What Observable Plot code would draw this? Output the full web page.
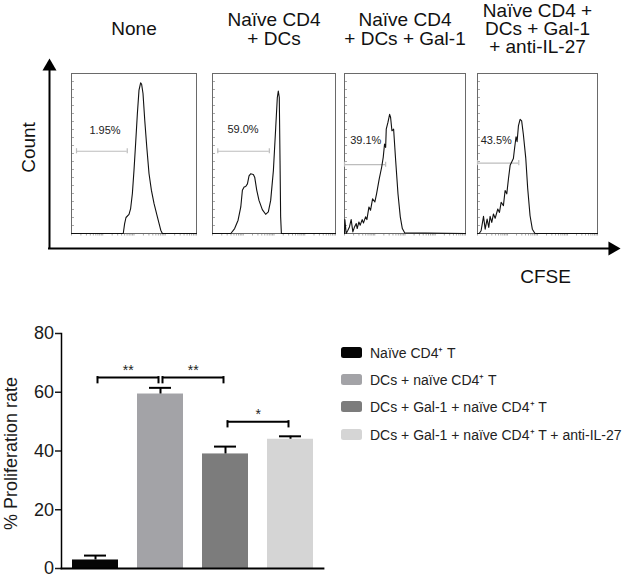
<!DOCTYPE html>
<html><head><meta charset="utf-8">
<script src="https://cdn.jsdelivr.net/npm/d3@7"></script>
<script src="https://cdn.jsdelivr.net/npm/@observablehq/plot@0.6"></script>
<style>
html,body{margin:0;padding:0;background:#fff;}
#fig{position:relative;width:624px;height:576px;overflow:hidden;font-family:"Liberation Sans",Arial,Helvetica,sans-serif;background:#fff;}
#fig > *{position:absolute;}
#legend{left:341px;top:339px;width:283px;}
#legend > div{margin:0 !important;font-family:"Liberation Sans",Arial,sans-serif !important;font-size:14px !important;color:#222 !important;}
#legend > div > div{height:27.2px !important;padding:0 !important;display:flex !important;align-items:center !important;}
#legend svg{margin-right:8px !important;}
#legend rect{rx:2.5px;ry:2.5px;}
</style></head>
<body><div id="fig"></div>
<script>
// ---------- DATA ----------
const panelTitles = ["None", "Naïve CD4\n+ DCs", "Naïve CD4\n+ DCs + Gal-1", "Naïve CD4 +\nDCs + Gal-1\n+ anti-IL-27"];
const gateLabels = ["1.95%", "59.0%", "39.1%", "43.5%"];
// CFSE histograms: [CFSE position (% of panel width), count (% of panel height)]
const histNone = [[0,0],[41.4,0],[42.5,6.2],[43.6,10],[46,11.9],[47.3,15.6],[48.7,25],[50,39.6],[51.3,56.3],[52.7,75],[54,89.6],[55.3,94.2],[56.1,93.3],[57.2,87.5],[58.6,70.8],[60.2,54.2],[62,37.5],[63.9,27.1],[66,18.8],[68.7,10.4],[71.4,2.1],[72.7,0],[100,0]];
const histDCs = [[0,0],[14.9,0],[18,3.1],[20.8,8.3],[23,16.6],[24.3,27],[25.7,29],[27,29.4],[28.4,31],[29.7,36],[31,37.3],[33.2,36.9],[34.3,35.2],[36,27],[37.8,20.7],[40.5,14.9],[43.2,12],[45.4,13.5],[47.3,20.7],[49.5,39.3],[51.4,66.3],[52.7,85],[53.5,89],[54.3,85],[54.9,45.5],[55.4,10.4],[56,0],[100,0]];
const histGal1 = [[0,0],[0.3,8.7],[1.4,0],[2.8,2],[4.1,4.1],[5.5,8.7],[6.9,1],[8.3,4.1],[9.7,6.2],[10.5,3.1],[11.9,7.2],[13,5.2],[14.6,8.7],[15.7,6.6],[17.4,10.4],[18.5,8.7],[20.2,16.6],[21.5,14.5],[23.2,21.7],[25.1,19.7],[26.5,24.8],[28.7,34.2],[30.7,41.4],[32,47.6],[33.1,55.9],[34,53.8],[34.5,65.2],[35.9,69.4],[37.3,74.5],[38.1,72.5],[39.2,64.2],[40.6,65.2],[42.3,45.5],[44.2,24.8],[46.1,10.4],[47.8,3.1],[49.7,0.4],[100,0]];
const histAntiIL27 = [[0,0],[1.4,0],[3,1.7],[5,10.7],[6.4,2.7],[8,9],[9.4,3.8],[10.5,10.7],[11.9,6.9],[13.3,12.2],[14.7,9.5],[16.9,15.3],[18.3,13.2],[19.7,19.5],[21.6,17.4],[23,26.9],[24.4,24.8],[25.8,34.2],[27.2,42.6],[28.5,44.7],[29.9,46.8],[30.7,52],[32.1,60.5],[33,57.4],[34.1,67.2],[35.5,71.4],[36.8,70.4],[38.2,62],[40.2,47.3],[41.8,28.4],[43.8,11.1],[45.7,2.7],[47.9,0],[100,0]];
// gates: start, end, height
const gateX1 = [4, 4.3, 0, 0];
const gateX2 = [44.6, 46.2, 34, 34.4];
const gateY = [51.4, 51.4, 43, 44];

// bar chart
const groups = ["Naïve CD4⁺ T", "DCs + naïve CD4⁺ T", "DCs + Gal-1 + naïve CD4⁺ T", "DCs + Gal-1 + naïve CD4⁺ T + anti-IL-27"];
const rates = [2.9, 59.4, 39.0, 44.0];
const rateErrTop = [4.4, 61.5, 41.5, 45.0];
const barColors = ["#050505", "#a3a3a7", "#7c7c7c", "#d5d5d5"];
const yTickValues = [0, 20, 40, 60, 80];
const sigFrom = [groups[0], groups[1], groups[2]];
const sigTo = [groups[1], groups[2], groups[3]];
const sigY = [65, 65, 50];
const sigLabels = ["**", "**", "*"];

// ---------- LAYOUT ----------
const font = '"Liberation Sans", Arial, Helvetica, sans-serif';
const fig = document.getElementById("fig");
function place(el, left, top) { el.style.position = "absolute"; el.style.left = left + "px"; el.style.top = top + "px"; el.style.maxWidth = "none"; fig.appendChild(el); }

const panelFrames = [[71,196],[212,335],[344,465],[477,597]];
const labelPos = [[26.8,61.9],[24.8,62.7],[17.6,56],[15.6,56]];
const curves = [histNone, histDCs, histGal1, histAntiIL27];
const logTicks = d3.range(4).flatMap(d => d3.range(1,10).map(k => 25*d + 25*Math.log10(k))).concat([100]);
const yMinor = d3.range(0, 101, 5);

curves.forEach((curve, i) => {
  const [L, R] = panelFrames[i];
  const ml = 8, mr = 8;
  const nLines = panelTitles[i].split("\n").length;
  const gate = {x1: gateX1[i], x2: gateX2[i], y: gateY[i]};
  const svg = Plot.plot({
    width: R - L + ml + mr, height: 240,
    marginTop: 73, marginBottom: 7, marginLeft: ml, marginRight: mr,
    x: {domain: [0, 100]}, y: {domain: [0, 100]},
    style: {background: "transparent", overflow: "visible", fontFamily: font},
    marks: [
      Plot.axisX({ticks: logTicks, tickSize: 2.5, tickFormat: () => "", label: null, stroke: "#aaa"}),
      Plot.axisY({ticks: yMinor, tickSize: -3, tickFormat: () => "", label: null, stroke: "#aaa"}),
      Plot.frame({stroke: "#6a6a6a"}),
      Plot.ruleY([gate], {x1: "x1", x2: "x2", y: "y", stroke: "#bdbdbd", strokeWidth: 1.2}),
      Plot.ruleX([gate.x1, gate.x2], {y1: gate.y - 1.6, y2: gate.y + 1.6, stroke: "#bdbdbd", strokeWidth: 1.2}),
      Plot.line(curve, {stroke: "#111", strokeWidth: 1.1}),
      Plot.text([gateLabels[i]], {x: labelPos[i][0], y: labelPos[i][1], text: d => d, fontSize: 11, lineAnchor: "bottom", fill: "#222"}),
      Plot.text([panelTitles[i]], {frameAnchor: "top", dy: -44.5, text: d => d, textAnchor: "middle", lineAnchor: "middle", fontSize: 19, lineHeight: nLines > 2 ? 0.95 : 1.02, fill: "#111"})
    ]
  });
  place(svg, L - ml, 0);
});

// axis arrows, Count / CFSE
const axisEnds = [0, 1];
const arrows = Plot.plot({
  width: 624, height: 290, marginLeft: 49, marginRight: 12, marginTop: 66, marginBottom: 42,
  x: {domain: axisEnds, axis: null}, y: {domain: axisEnds, axis: null},
  style: {background: "transparent", overflow: "visible", fontFamily: font},
  marks: [
    Plot.ruleX([axisEnds[0]], {y1: axisEnds[0], y2: axisEnds[1], strokeWidth: 2, strokeLinecap: "square"}),
    Plot.ruleY([axisEnds[0]], {x1: axisEnds[0], x2: axisEnds[1], strokeWidth: 2, strokeLinecap: "square"}),
    Plot.dot([[axisEnds[0], axisEnds[1]]], {symbol: "triangle", r: 5.2, fill: "black", stroke: null}),
    Plot.dot([[axisEnds[1], axisEnds[0]]], {symbol: "triangle", r: 5.2, rotate: 90, fill: "black", stroke: null}),
    Plot.text(["Count"], {frameAnchor: "left", text: d => d, textAnchor: "middle", rotate: -90, dx: -21, dy: -10, fontSize: 19, fill: "#111"}),
    Plot.text(["CFSE"], {frameAnchor: "bottom-right", text: d => d, textAnchor: "middle", dx: -67, dy: 34, lineAnchor: "bottom", fontSize: 19, fill: "#111"})
  ]
});
place(arrows, 0, 0);

// bar chart
const bars = groups.map((g, i) => ({group: g, value: rates[i], err: rateErrTop[i]}));
const brackets = sigFrom.map((f, i) => ({from: f, to: sigTo[i], y: sigY[i], label: sigLabels[i]}));
const bandInset = 22.9 + 2; // half bandwidth + small gap
const chart = Plot.plot({
  width: 330, height: 276, marginTop: 33, marginBottom: 8, marginLeft: 61, marginRight: 7,
  x: {domain: groups, paddingInner: 0.3, paddingOuter: 0.15, axis: null},
  y: {domain: [0, 80]},
  color: {domain: groups, range: barColors},
  style: {background: "transparent", overflow: "visible", fontFamily: font},
  marks: [
    Plot.barY(bars, {x: "group", y: "value", fill: "group"}),
    Plot.ruleX(bars, {x: "group", y1: "value", y2: "err", strokeWidth: 2}),
    Plot.tickY(bars, {x: "group", y: "err", strokeWidth: 2, insetLeft: 12, insetRight: 12}),
    Plot.ruleY(brackets, {x1: "from", x2: "to", y: "y", strokeWidth: 2, insetLeft: bandInset, insetRight: bandInset}),
    Plot.ruleX(brackets, {x: "from", y1: d => d.y - 1.8, y2: "y", dx: 2, strokeWidth: 2, strokeLinecap: "square"}),
    Plot.ruleX(brackets, {x: "to", y1: d => d.y - 1.8, y2: "y", dx: -2, strokeWidth: 2, strokeLinecap: "square"}),
    Plot.text(brackets, {x: "from", y: "y", text: "label", dx: 32.75, dy: -3, lineAnchor: "bottom", fontSize: 14, fill: "#222"}),
    Plot.axisY({ticks: yTickValues, tickSize: 6, tickPadding: 1.5, fontSize: 18, label: null, strokeWidth: 1.5, color: "#1a1a1a"}),
    Plot.frame({anchor: "left", strokeWidth: 1.5}),
    Plot.frame({anchor: "bottom", strokeWidth: 1.8}),
    Plot.text(["% Proliferation rate"], {frameAnchor: "left", text: d => d, textAnchor: "middle", rotate: -90, dx: -50, dy: 2.5, fontSize: 18, fill: "#1a1a1a"})
  ]
});
place(chart, 0, 300);

// legend
const legend = Plot.legend({
  color: {type: "ordinal", domain: groups, range: barColors},
  legend: "swatches", columns: 1, swatchWidth: 21, swatchHeight: 11, className: "lg"
});
const wrap = document.createElement("div");
wrap.id = "legend";
wrap.appendChild(legend);
fig.appendChild(wrap);
</script></body></html>
